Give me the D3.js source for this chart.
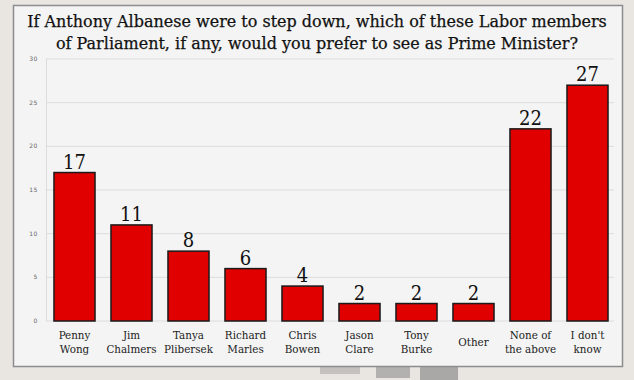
<!DOCTYPE html>
<html>
<head>
<meta charset="utf-8">
<script src="https://cdn.jsdelivr.net/npm/d3@7"></script>
<style>
  body { margin: 0; background: #e7e3dd; }
  svg { display: block; }
</style>
</head>
<body>
<svg id="chart" width="634" height="380"></svg>
<script>
const categories = [
  ["Penny", "Wong"], ["Jim", "Chalmers"], ["Tanya", "Plibersek"], ["Richard", "Marles"],
  ["Chris", "Bowen"], ["Jason", "Clare"], ["Tony", "Burke"], ["Other"],
  ["None of", "the above"], ["I don't", "know"]
];
const values = [17, 11, 8, 6, 4, 2, 2, 2, 22, 27];
const yTicks = [0, 5, 10, 15, 20, 25, 30];
const titleLines = [
  "If Anthony Albanese were to step down, which of these Labor members",
  "of Parliament, if any, would you prefer to see as Prime Minister?"
];

const svg = d3.select("#chart");
const serif = "'DejaVu Serif', serif";

// faint shapes under the card
svg.append("rect").attr("x", 0).attr("y", 0).attr("width", 634).attr("height", 380).attr("fill", "#e9e6e1");
svg.append("rect").attr("x", 320).attr("y", 366).attr("width", 40).attr("height", 8).attr("fill", "#c4c2bf");
svg.append("rect").attr("x", 376).attr("y", 366).attr("width", 34).attr("height", 12).attr("fill", "#b3b1af");
svg.append("rect").attr("x", 420).attr("y", 366).attr("width", 38).attr("height", 14).attr("fill", "#a9a8a7");

// card
svg.append("rect")
  .attr("x", 13.5).attr("y", 5.5).attr("width", 609).attr("height", 361)
  .attr("fill", "#f4f4f4").attr("stroke", "#8d8d8d").attr("stroke-width", 1.5);

// title
const title = svg.append("g");
titleLines.forEach((t, i) => {
  title.append("text")
    .attr("x", 317).attr("y", 27 + i * 22)
    .attr("text-anchor", "middle")
    .attr("font-family", serif)
    .attr("font-size", 17)
    .attr("fill", "#111")
    .attr("stroke", "#111").attr("stroke-width", 0.25)
    .text(t);
});
// fit first line to ~580px
const w0 = title.select("text").node().getComputedTextLength();
title.selectAll("text").attr("font-size", 17 * 580 / w0);

const x = d3.scaleBand()
  .domain(d3.range(values.length))
  .range([46, 616])
  .paddingInner(0.28)
  .paddingOuter(0.14);

const y = d3.scaleLinear().domain([0, 30]).range([321, 59]);

// grid
svg.append("g").selectAll("line").data(yTicks).join("line")
  .attr("x1", 46).attr("x2", 614)
  .attr("y1", d => y(d)).attr("y2", d => y(d))
  .attr("stroke", "#dcdcdc").attr("stroke-width", 1);
svg.append("line")
  .attr("x1", 46.5).attr("x2", 46.5).attr("y1", y(30)).attr("y2", y(0))
  .attr("stroke", "#dcdcdc");

// y tick labels
svg.append("g").selectAll("text").data(yTicks).join("text")
  .attr("x", 38).attr("y", d => y(d) + 2)
  .attr("text-anchor", "end")
  .attr("font-family", "'DejaVu Sans', sans-serif")
  .attr("font-size", 6)
  .attr("letter-spacing", 0.6)
  .attr("fill", "#666")
  .text(d => d);

// bars
svg.append("g").selectAll("rect").data(values).join("rect")
  .attr("x", (d, i) => x(i))
  .attr("y", d => y(d))
  .attr("width", x.bandwidth())
  .attr("height", d => y(0) - y(d))
  .attr("fill", "#e00000")
  .attr("stroke", "#1a1a1a")
  .attr("stroke-width", 1.5);

// value labels
svg.append("g").selectAll("text").data(values).join("text")
  .attr("x", (d, i) => x(i) + x.bandwidth() / 2)
  .attr("y", d => y(d) - 4)
  .attr("text-anchor", "middle")
  .attr("font-family", serif)
  .attr("font-stretch", "condensed")
  .attr("font-size", 20)
  .attr("fill", "#111")
  .text(d => d);

// category labels, one text per line
const cat = svg.append("g").selectAll("g").data(categories).join("g")
  .attr("transform", (d, i) => `translate(${x(i) + x.bandwidth() / 2},0)`);
cat.selectAll("text").data(d => d.map((t, j) => ({ t, j, n: d.length }))).join("text")
  .attr("x", 0)
  .attr("y", d => d.n === 1 ? 346 : 339 + d.j * 13.5)
  .attr("text-anchor", "middle")
  .attr("font-family", serif)
  .attr("font-stretch", "condensed")
  .attr("font-size", 11.5)
  .attr("fill", "#222")
  .text(d => d.t);
</script>
</body>
</html>
